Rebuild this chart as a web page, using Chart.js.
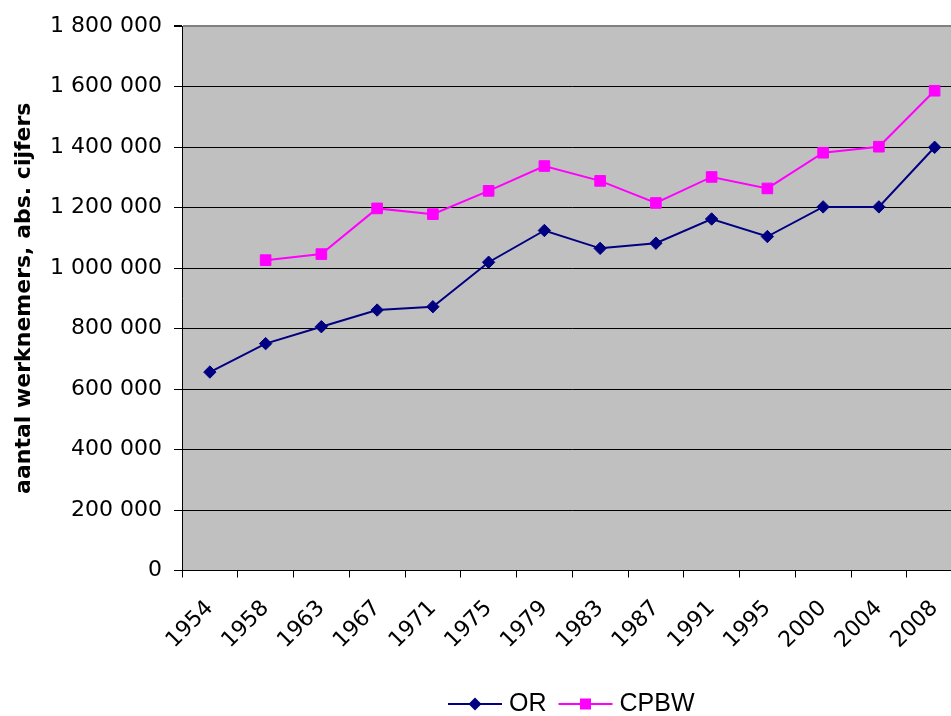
<!DOCTYPE html>
<html>
<head>
<meta charset="utf-8">
<script src="https://cdn.jsdelivr.net/npm/chart.js@4/dist/chart.umd.min.js"></script>
<style>
  html, body { margin: 0; padding: 0; background: #ffffff; overflow: hidden; }
  #wrap { position: relative; width: 1000px; height: 716px; }
</style>
</head>
<body>
<div id="wrap"><canvas id="c"></canvas></div>
<script>
const years = ['1954','1958','1963','1967','1971','1975','1979','1983','1987','1991','1995','2000','2004','2008'];
const orValues = [656000, 750000, 806000, 861000, 872000, 1019000, 1124000, 1065000, 1082000, 1162000, 1104000, 1202000, 1202000, 1399000];
const cpbwValues = [null, 1026000, 1046000, 1197000, 1178000, 1255000, 1337000, 1288000, 1215000, 1301000, 1263000, 1381000, 1401000, 1586000];
const seriesNames = ['OR', 'CPBW'];
const yTitle = 'aantal werknemers, abs. cijfers';

const AXFONT = "'DejaVu Sans', sans-serif";
const LEGFONT = "'Liberation Sans', Arial, sans-serif";

const legendPlugin = {
  id: 'customLegend',
  afterDraw(chart) {
    const ctx = chart.ctx;
    ctx.save();
    ctx.font = '25px ' + LEGFONT;
    ctx.textBaseline = 'middle';
    ctx.textAlign = 'left';
    const cy = 704;
    let x = 448;
    chart.data.datasets.forEach((ds) => {
      const lineLen = 54;
      ctx.strokeStyle = ds.borderColor;
      ctx.lineWidth = 2;
      ctx.beginPath();
      ctx.moveTo(x, cy);
      ctx.lineTo(x + lineLen, cy);
      ctx.stroke();
      const mx = x + lineLen / 2;
      ctx.fillStyle = ds.pointBackgroundColor;
      ctx.beginPath();
      if (ds.pointStyle === 'rectRot') {
        const r = 6.5;
        ctx.moveTo(mx, cy - r); ctx.lineTo(mx + r, cy); ctx.lineTo(mx, cy + r); ctx.lineTo(mx - r, cy);
      } else {
        const h = 5.5;
        ctx.rect(mx - h, cy - h, 2 * h, 2 * h);
      }
      ctx.closePath();
      ctx.fill();
      ctx.fillStyle = '#000000';
      ctx.fillText(ds.label, x + lineLen + 7, cy);
      x += lineLen + 7 + ctx.measureText(ds.label).width + 12;
    });
    ctx.restore();
  }
};

const bgPlugin = {
  id: 'plotBg',
  beforeDraw(chart) {
    const a = chart.chartArea;
    const ctx = chart.ctx;
    ctx.save();
    ctx.fillStyle = '#C0C0C0';
    ctx.fillRect(a.left, a.top, a.right - a.left, a.bottom - a.top);
    ctx.restore();
  }
};

new Chart(document.getElementById('c'), {
  type: 'line',
  data: {
    labels: years,
    datasets: [
      {
        label: seriesNames[0],
        data: orValues,
        borderColor: '#000080',
        backgroundColor: '#000080',
        pointBackgroundColor: '#000080',
        pointBorderColor: '#000080',
        pointStyle: 'rectRot',
        pointRadius: 6.2,
        pointBorderWidth: 1,
        borderWidth: 2,
        tension: 0,
        spanGaps: false
      },
      {
        label: seriesNames[1],
        data: cpbwValues,
        borderColor: '#FF00FF',
        backgroundColor: '#FF00FF',
        pointBackgroundColor: '#FF00FF',
        pointBorderColor: '#FF00FF',
        pointStyle: 'rect',
        pointRadius: 7.5,
        pointBorderWidth: 1,
        borderWidth: 2,
        tension: 0,
        spanGaps: false
      }
    ]
  },
  options: {
    responsive: true,
    maintainAspectRatio: false,
    animation: false,
    events: [],
    layout: { padding: { top: 26, right: 37.5, left: 0, bottom: 0 } },
    plugins: {
      legend: { display: false },
      tooltip: { enabled: false },
      title: { display: false }
    },
    scales: {
      x: {
        type: 'category',
        offset: true,
        afterFit(s) { s.height = 145.5; },
        border: { display: true, color: '#000000', width: 1 },
        grid: {
          display: true,
          offset: true,
          drawOnChartArea: false,
          drawTicks: true,
          tickLength: 7,
          tickColor: '#000000',
          color: '#000000'
        },
        ticks: {
          color: '#000000',
          font: { family: AXFONT, size: 22 },
          minRotation: 45,
          maxRotation: 45,
          autoSkip: false,
          padding: 18
        }
      },
      y: {
        min: 0,
        max: 1800000,
        afterFit(s) { s.width = 182; },
        border: { display: true, color: '#000000', width: 1 },
        grid: {
          drawTicks: true,
          tickLength: 8,
          color: (ctx) => (ctx.tick && ctx.tick.value === 1800000) ? '#808080' : '#000000',
          tickColor: '#000000',
          lineWidth: (ctx) => (ctx.tick && ctx.tick.value === 1800000) ? 2 : 1
        },
        ticks: {
          stepSize: 200000,
          color: '#000000',
          padding: 12,
          font: { family: AXFONT, size: 22 },
          callback: (v) => v === 0 ? '0' : String(v).replace(/\B(?=(\d{3})+(?!\d))/g, ' ')
        },
        title: {
          display: true,
          text: yTitle,
          color: '#000000',
          font: { family: AXFONT, size: 22, weight: 'bold' },
          padding: { top: 11, bottom: 0 }
        }
      }
    }
  },
  plugins: [bgPlugin, legendPlugin]
});
</script>
</body>
</html>
